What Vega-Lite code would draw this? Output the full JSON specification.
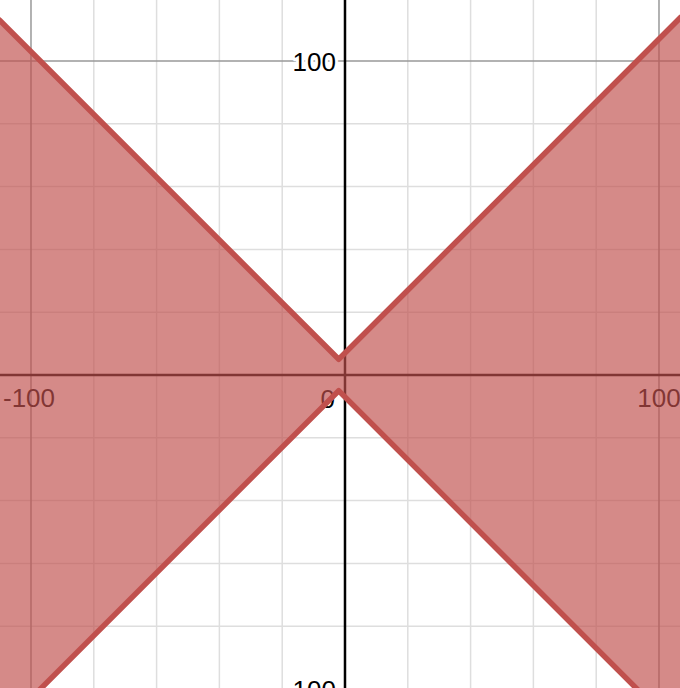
{
  "$schema": "https://vega.github.io/schema/vega-lite/v6.json",
  "width": 680,
  "height": 688,
  "autosize": {"type": "none"},
  "padding": 0,
  "background": "white",
  "config": {"view": {"stroke": null}},
  "datasets": {
    "grid": [
      {"v": -100, "kind": "major"}, {"v": -80, "kind": "minor"}, {"v": -60, "kind": "minor"},
      {"v": -40, "kind": "minor"}, {"v": -20, "kind": "minor"}, {"v": 20, "kind": "minor"},
      {"v": 40, "kind": "minor"}, {"v": 60, "kind": "minor"}, {"v": 80, "kind": "minor"},
      {"v": 100, "kind": "major"}
    ],
    "axis0": [{"v": 0}],
    "xlabelLeft": [{"x": -100, "text": "-100"}],
    "xlabelRight": [{"x": 100, "text": "100"}],
    "origin": [{"x": 0, "y": 0, "text": "0"}],
    "ylabels": [{"y": 100, "text": "100"}, {"y": -100, "text": "-100"}],
    "region": [
      {"x": -110, "top": 113, "bottom": -113},
      {"x": -2, "top": 5, "bottom": -5},
      {"x": 107, "top": 114, "bottom": -114}
    ]
  },
  "layer": [
    {
      "data": {"name": "grid"},
      "transform": [{"filter": "datum.kind === 'minor'"}],
      "mark": {"type": "rule", "color": "#dedede", "strokeWidth": 1.5, "clip": true},
      "encoding": {"x": {"field": "v", "type": "quantitative", "scale": {"domain": [-109.87, 106.69], "nice": false, "zero": false}, "axis": null}}
    },
    {
      "data": {"name": "grid"},
      "transform": [{"filter": "datum.kind === 'minor'"}],
      "mark": {"type": "rule", "color": "#dedede", "strokeWidth": 1.5, "clip": true},
      "encoding": {"y": {"field": "v", "type": "quantitative", "scale": {"domain": [-99.68, 119.43], "nice": false, "zero": false}, "axis": null}}
    },
    {
      "data": {"name": "grid"},
      "transform": [{"filter": "datum.kind === 'major'"}],
      "mark": {"type": "rule", "color": "#999999", "strokeWidth": 1.5, "clip": true},
      "encoding": {"x": {"field": "v", "type": "quantitative", "axis": null}}
    },
    {
      "data": {"name": "grid"},
      "transform": [{"filter": "datum.kind === 'major'"}],
      "mark": {"type": "rule", "color": "#999999", "strokeWidth": 1.5, "clip": true},
      "encoding": {"y": {"field": "v", "type": "quantitative", "axis": null}}
    },
    {
      "data": {"name": "axis0"},
      "mark": {"type": "rule", "color": "#000000", "strokeWidth": 2.5},
      "encoding": {"x": {"field": "v", "type": "quantitative", "axis": null}}
    },
    {
      "data": {"name": "axis0"},
      "mark": {"type": "rule", "color": "#000000", "strokeWidth": 2.5},
      "encoding": {"y": {"field": "v", "type": "quantitative", "axis": null}}
    },
    {
      "data": {"name": "xlabelLeft"},
      "mark": {"type": "text", "align": "center", "baseline": "alphabetic", "dx": -2, "dy": 32, "fontSize": 26, "font": "Liberation Sans", "fill": "#000000", "clip": true},
      "encoding": {"x": {"field": "x", "type": "quantitative", "axis": null}, "y": {"datum": 0, "type": "quantitative", "axis": null}, "text": {"field": "text"}}
    },
    {
      "data": {"name": "xlabelRight"},
      "mark": {"type": "text", "align": "center", "baseline": "alphabetic", "dy": 32, "fontSize": 26, "font": "Liberation Sans", "fill": "#000000", "clip": true},
      "encoding": {"x": {"field": "x", "type": "quantitative", "axis": null}, "y": {"datum": 0, "type": "quantitative", "axis": null}, "text": {"field": "text"}}
    },
    {
      "data": {"name": "origin"},
      "mark": {"type": "text", "align": "right", "baseline": "alphabetic", "dx": -10, "dy": 33, "fontSize": 26, "font": "Liberation Sans", "fill": "#000000", "clip": true},
      "encoding": {"x": {"field": "x", "type": "quantitative", "axis": null}, "y": {"field": "y", "type": "quantitative", "axis": null}, "text": {"field": "text"}}
    },
    {
      "data": {"name": "ylabels"},
      "mark": {"type": "text", "align": "right", "baseline": "alphabetic", "dx": -9, "dy": 9.5, "fontSize": 26, "font": "Liberation Sans", "fill": "white", "stroke": "white", "strokeWidth": 6, "strokeJoin": "round", "clip": true},
      "encoding": {"x": {"datum": 0, "type": "quantitative", "axis": null}, "y": {"field": "y", "type": "quantitative", "axis": null}, "text": {"field": "text"}}
    },
    {
      "data": {"name": "ylabels"},
      "mark": {"type": "text", "align": "right", "baseline": "alphabetic", "dx": -9, "dy": 9.5, "fontSize": 26, "font": "Liberation Sans", "fill": "#000000", "clip": true},
      "encoding": {"x": {"datum": 0, "type": "quantitative", "axis": null}, "y": {"field": "y", "type": "quantitative", "axis": null}, "text": {"field": "text"}}
    },
    {
      "data": {"name": "region"},
      "mark": {"type": "area", "color": "#c0504d", "opacity": 0.67, "clip": true},
      "encoding": {
        "x": {"field": "x", "type": "quantitative", "axis": null},
        "y": {"field": "top", "type": "quantitative", "axis": null},
        "y2": {"field": "bottom"}
      }
    },
    {
      "data": {"name": "region"},
      "mark": {"type": "line", "color": "#c0504d", "strokeWidth": 5.5, "strokeJoin": "round", "strokeCap": "round", "clip": true},
      "encoding": {
        "x": {"field": "x", "type": "quantitative", "axis": null},
        "y": {"field": "top", "type": "quantitative", "axis": null}
      }
    },
    {
      "data": {"name": "region"},
      "mark": {"type": "line", "color": "#c0504d", "strokeWidth": 5.5, "strokeJoin": "round", "strokeCap": "round", "clip": true},
      "encoding": {
        "x": {"field": "x", "type": "quantitative", "axis": null},
        "y": {"field": "bottom", "type": "quantitative", "axis": null}
      }
    }
  ]
}
